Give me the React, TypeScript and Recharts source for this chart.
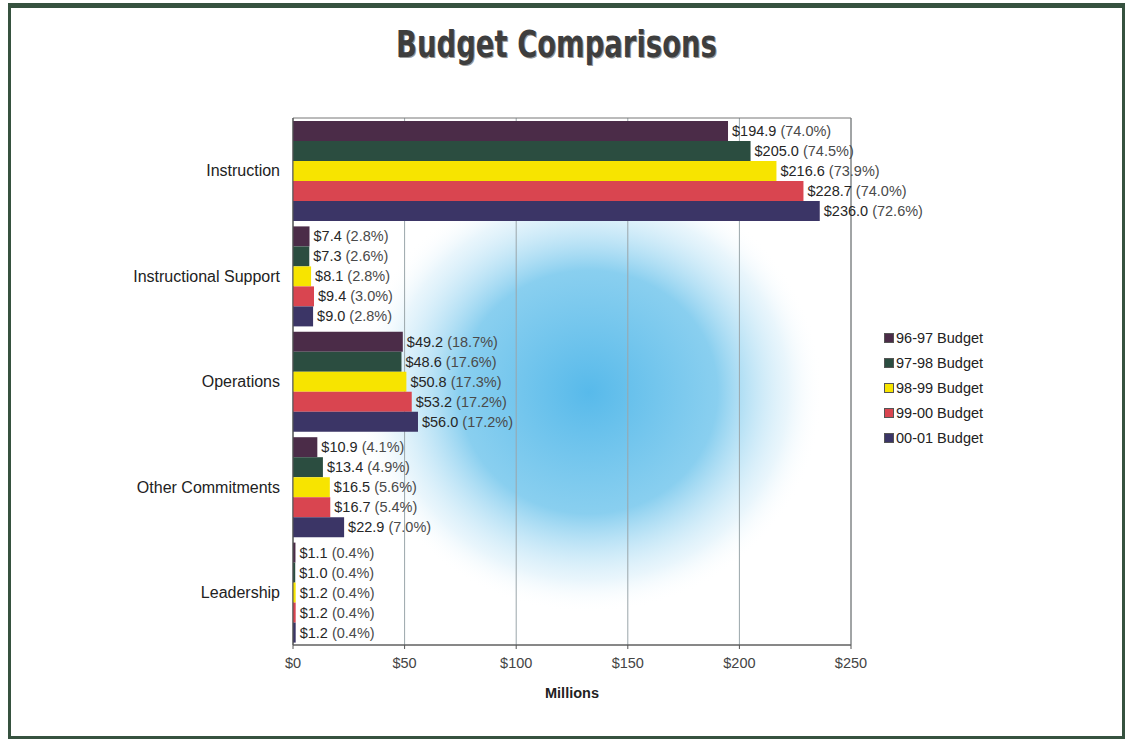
import React from 'react';
import {
  BarChart,
  Bar,
  XAxis,
  YAxis,
  CartesianGrid,
  Legend,
  LabelList,
  ReferenceArea,
} from 'recharts';

// categories, top to bottom
const categories = ['Instruction', 'Instructional Support', 'Operations', 'Other Commitments', 'Leadership'];

// budget in $ millions per year
const budget9697 = [194.9, 7.4, 49.2, 10.9, 1.1];
const budget9798 = [205.0, 7.3, 48.6, 13.4, 1.0];
const budget9899 = [216.6, 8.1, 50.8, 16.5, 1.2];
const budget9900 = [228.7, 9.4, 53.2, 16.7, 1.2];
const budget0001 = [236.0, 9.0, 56.0, 22.9, 1.2];

// share of total budget (%)
const share9697 = [74.0, 2.8, 18.7, 4.1, 0.4];
const share9798 = [74.5, 2.6, 17.6, 4.9, 0.4];
const share9899 = [73.9, 2.8, 17.3, 5.6, 0.4];
const share9900 = [74.0, 3.0, 17.2, 5.4, 0.4];
const share0001 = [72.6, 2.8, 17.2, 7.0, 0.4];

const xTicks = [0, 50, 100, 150, 200, 250];

const series = [
  { key: 'b9697', pct: 'p9697', name: '96-97 Budget', color: '#4b2c48', values: budget9697, shares: share9697 },
  { key: 'b9798', pct: 'p9798', name: '97-98 Budget', color: '#2b4d40', values: budget9798, shares: share9798 },
  { key: 'b9899', pct: 'p9899', name: '98-99 Budget', color: '#f7e400', values: budget9899, shares: share9899 },
  { key: 'b9900', pct: 'p9900', name: '99-00 Budget', color: '#d94550', values: budget9900, shares: share9900 },
  { key: 'b0001', pct: 'p0001', name: '00-01 Budget', color: '#3b3566', values: budget0001, shares: share0001 },
];

const data = categories.map((category, i) => {
  const row: any = { category };
  series.forEach((s) => {
    row[s.key] = s.values[i];
    row[s.pct] = s.shares[i];
  });
  return row;
});

const FONT = '"Liberation Sans", Arial, sans-serif';
const TXT = 14.5;

const makeLabel = (valueKey: string, pctKey: string) => (props: any) => {
  const { x, y, width, height, index } = props;
  const value = data[index][valueKey];
  const pct = data[index][pctKey];
  return (
    <text
      x={Number(x) + Number(width) + 4}
      y={Number(y) + Number(height) / 2}
      dominantBaseline="central"
      fontSize={TXT}
      fontFamily={FONT}
      fill="#262626"
    >
      {`$${value.toFixed(1)} `}
      <tspan fill="#4a4a4a">{`(${pct.toFixed(1)}%)`}</tspan>
    </text>
  );
};

const renderLegend = () => (
  <div style={{ fontFamily: FONT, fontSize: TXT, color: '#222' }}>
    {series.map((s) => (
      <div key={s.key} style={{ display: 'flex', alignItems: 'center', height: 25 }}>
        <span
          style={{
            display: 'inline-block',
            width: 8,
            height: 8,
            background: s.color,
            border: '1px solid #555',
            marginRight: 2,
          }}
        />
        {s.name}
      </div>
    ))}
  </div>
);

export default function App() {
  return (
    <div style={{ position: 'absolute', left: 0, top: 0, width: 1133, height: 740, background: '#fff' }}>
      <div
        style={{
          position: 'absolute',
          left: 8,
          top: 3,
          width: 1111,
          height: 728,
          border: '3px solid #36523f',
          borderTopWidth: 5,
        }}
      />
      <div
        style={{
          position: 'absolute',
          left: 0,
          width: 1113,
          top: 26,
          textAlign: 'center',
          fontFamily: '"DejaVu Sans Condensed", "Liberation Sans Narrow", "DejaVu Sans", sans-serif',
          fontWeight: 'bold',
          fontSize: 30.5,
          lineHeight: '36px',
          color: '#3e3e3e',
          transform: 'scaleY(1.25)',
          textShadow: '1px 1px 0 #999',
        }}
      >
        Budget Comparisons
      </div>
      <div style={{ position: 'absolute', left: 0, top: 0 }}>
        <BarChart
          width={1133}
          height={740}
          data={data}
          layout="vertical"
          margin={{ top: 118, right: 282, bottom: 35, left: 0 }}
          barCategoryGap={3}
          barGap={0}
        >
          <defs>
            <radialGradient id="glow" cx="0.53" cy="0.52" r="0.42">
              <stop offset="0%" stopColor="#45b2e8" stopOpacity={0.9} />
              <stop offset="55%" stopColor="#62bfea" stopOpacity={0.75} />
              <stop offset="85%" stopColor="#c0e4f6" stopOpacity={0.35} />
              <stop offset="100%" stopColor="#ffffff" stopOpacity={0} />
            </radialGradient>
          </defs>
          <CartesianGrid horizontal={false} stroke="#9aa6aa" fill="url(#glow)" fillOpacity={1} />
          <XAxis
            type="number"
            domain={[0, 250]}
            ticks={xTicks}
            tickFormatter={(v) => `$${v}`}
            tick={{ fontSize: TXT, fill: '#444', fontFamily: FONT }}
            tickSize={4}
            tickMargin={9}
            axisLine={{ stroke: '#555' }}
            tickLine={{ stroke: '#555' }}
            height={60}
            label={{
              value: 'Millions',
              position: 'insideBottom',
              offset: 7,
              style: { fontSize: TXT, fontWeight: 'bold', fill: '#222', fontFamily: FONT },
            }}
          />
          <YAxis
            type="category"
            dataKey="category"
            width={293}
            tickLine={false}
            tickMargin={7}
            axisLine={{ stroke: '#555' }}
            tick={{ fontSize: 16, fill: '#222', fontFamily: FONT }}
          />
          <ReferenceArea x1={0} x2={250} fill="none" stroke="#777" strokeWidth={1} ifOverflow="visible" />
          {series.map((s) => (
            <Bar key={s.key} dataKey={s.key} name={s.name} fill={s.color} isAnimationActive={false}>
              <LabelList dataKey={s.key} content={makeLabel(s.key, s.pct)} />
            </Bar>
          ))}
          <Legend
            layout="vertical"
            align="center"
            verticalAlign="middle"
            content={renderLegend}
            wrapperStyle={{ left: 884, top: 325, width: 'auto' }}
          />
        </BarChart>
      </div>
    </div>
  );
}
